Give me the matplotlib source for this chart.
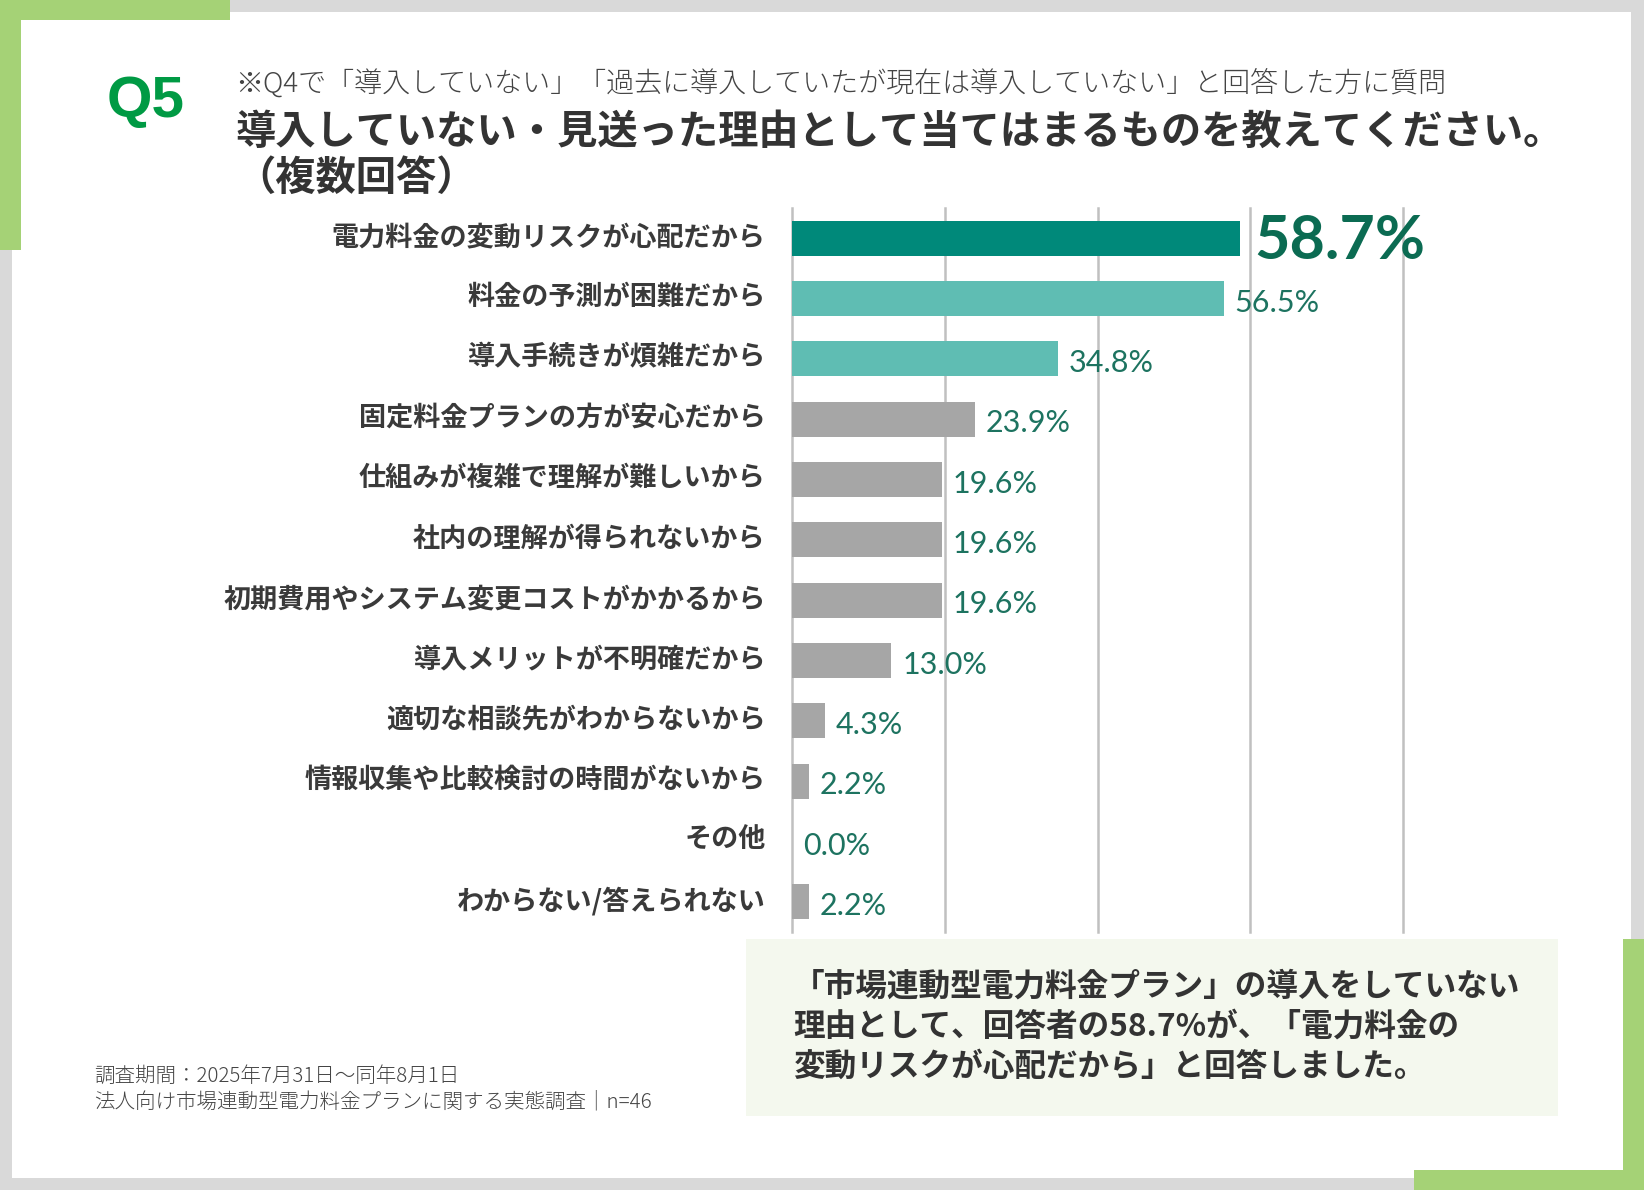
import matplotlib
matplotlib.use('Agg')
import matplotlib.pyplot as plt
import matplotlib.transforms as mtransforms
from matplotlib.patches import Rectangle

plt.rcParams['font.family'] = ['Noto Sans CJK JP', 'DejaVu Sans']

categories = [
    '電力料金の変動リスクが心配だから',
    '料金の予測が困難だから',
    '導入手続きが煩雑だから',
    '固定料金プランの方が安心だから',
    '仕組みが複雑で理解が難しいから',
    '社内の理解が得られないから',
    '初期費用やシステム変更コストがかかるから',
    '導入メリットが不明確だから',
    '適切な相談先がわからないから',
    '情報収集や比較検討の時間がないから',
    'その他',
    'わからない/答えられない',
]
values = [58.7, 56.5, 34.8, 23.9, 19.6, 19.6, 19.6, 13.0, 4.3, 2.2, 0.0, 2.2]
grid_ticks = [0, 20, 40, 60, 80]

subtitle = '※Q4で「導入していない」「過去に導入していたが現在は導入していない」と回答した方に質問'
title_lines = ['導入していない・見送った理由として当てはまるものを教えてください。', '（複数回答）']
summary_lines = [
    '「市場連動型電力料金プラン」の導入をしていない',
    '理由として、回答者の58.7%が、「電力料金の',
    '変動リスクが心配だから」と回答しました。',
]
footer_lines = [
    '調査期間：2025年7月31日〜同年8月1日',
    '法人向け市場連動型電力料金プランに関する実態調査｜n=46',
]

W, H = 1644, 1190
GREEN = '#a5d276'
DARK = '#00897a'
TEAL = '#5fbdb3'
GRAY = '#a6a6a6'
LABEL = '#1d7360'


def box(fig, x0, y0, x1, y1, color):
    fig.add_artist(Rectangle((x0 / W, 1 - y1 / H), (x1 - x0) / W, (y1 - y0) / H,
                             transform=fig.transFigure, facecolor=color,
                             edgecolor='none', zorder=0))


def text(fig, x, y, s, **kw):
    fig.text(x / W, 1 - y / H, s, va='center', **kw)


fig = plt.figure(figsize=(W / 100, H / 100), dpi=100)
fig.patch.set_facecolor('#d9d9d9')

# frame
box(fig, 12, 12, 1631, 1178, 'white')
box(fig, 0, 0, 230, 20, GREEN)
box(fig, 0, 0, 21, 250, GREEN)
box(fig, 1623, 939, 1644, 1190, GREEN)
box(fig, 1414, 1170, 1644, 1190, GREEN)

# header
text(fig, 146, 102, 'Q5', ha='center', color='#009a44', fontsize=42,
     fontweight='bold', family=['Liberation Sans', 'DejaVu Sans'])
text(fig, 235, 84, subtitle, color='#444444', fontsize=20.2, fontweight='light')
text(fig, 235, 132, title_lines[0], color='#333333', fontsize=29, fontweight='bold')
text(fig, 235, 178, title_lines[1], color='#333333', fontsize=29, fontweight='bold')

# chart
ax = fig.add_axes([792 / W, 1 - 932 / H, (1403 - 792) / W, 724 / H])
ax.patch.set_alpha(0)
n = len(values)
colors = [DARK] + [TEAL] * 2 + [GRAY] * (n - 3)
ypos = list(range(n))
ax.barh(ypos, values, height=0.58, color=colors, zorder=2)
ax.set_xlim(0, 80)
ax.set_ylim(n - 0.5, -0.5)
ax.set_xticks(grid_ticks)
ax.set_xticklabels([])
ax.set_yticks(ypos)
ax.set_yticklabels(categories, fontsize=19.5, fontweight='bold', color='#3a3a3a')
ax.tick_params(length=0, pad=19)
shift = mtransforms.ScaledTranslation(0, 3 / 72, fig.dpi_scale_trans)
for lab in ax.get_yticklabels():
    lab.set_transform(lab.get_transform() + shift)
ax.grid(axis='x', color='#c0c0c0', linewidth=1.8, zorder=1)
for line in ax.get_xgridlines():
    line.set_clip_on(False)
for s in ax.spines.values():
    s.set_visible(False)

for i, v in enumerate(values):
    if i == 0:
        ax.annotate(f'{v:.1f}%', (v, i), xytext=(10, -2), textcoords='offset points',
                    va='center', ha='left', fontsize=44, fontweight='bold', color='#0b6b52',
                    family=['Lato', 'DejaVu Sans'])
    else:
        ax.annotate(f'{v:.1f}%', (v, i), xytext=(8, -3), textcoords='offset points',
                    va='center', ha='left', fontsize=22, color=LABEL,
                    family=['Lato', 'DejaVu Sans'])

# summary box
box(fig, 746, 939, 1558, 1116, '#f4f8ee')
for k, line in enumerate(summary_lines):
    text(fig, 793, 987 + 40 * k, line, color='#333333', fontsize=22.8, fontweight='bold')

# footer
for k, line in enumerate(footer_lines):
    text(fig, 94, 1076 + 26 * k, line, color='#444444', fontsize=14.8, fontweight='light')

fig.savefig('out.png', dpi=100, facecolor=fig.get_facecolor())
